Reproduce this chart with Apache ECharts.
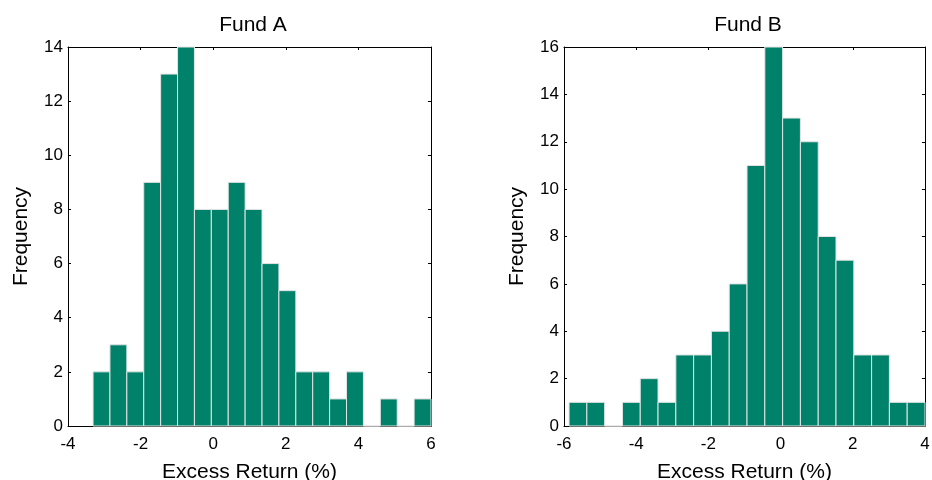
<!DOCTYPE html>
<html>
<head>
<meta charset="utf-8">
<script src="https://cdn.jsdelivr.net/npm/echarts@6/dist/echarts.min.js"></script>
<style>
html,body{margin:0;padding:0;background:#fff;}
#chart{width:932px;height:480px;}
</style>
</head>
<body>
<div id="chart"></div>
<script>
// ---- data ----
var titles = ['Fund A', 'Fund B'];
var countsA = [2, 3, 2, 9, 13, 14, 8, 8, 9, 8, 6, 5, 2, 2, 1, 2, 0, 1, 0, 1];
var countsB = [1, 1, 0, 1, 2, 1, 3, 3, 4, 6, 11, 16, 13, 12, 8, 7, 3, 3, 1, 1];
var binRangeA = [-3.31, 6.0];   // first bin left edge, last bin right edge
var binRangeB = [-5.86, 4.0];
var xTicksA = [-4, -2, 0, 2, 4, 6];
var xTicksB = [-6, -4, -2, 0, 2, 4];
var yTicksA = [0, 2, 4, 6, 8, 10, 12, 14];
var yTicksB = [0, 2, 4, 6, 8, 10, 12, 14, 16];
var xLabel = 'Excess Return (%)';
var yLabel = 'Frequency';

function bins(counts, range) {
  var w = (range[1] - range[0]) / counts.length;
  return counts.map(function (c, i) {
    return [range[0] + i * w, range[0] + (i + 1) * w, c];
  });
}

var FONT = 'Liberation Sans, Arial, sans-serif';
var BAR = '#00826A';

function renderBar(params, api) {
  var p0 = api.coord([api.value(0), 0]);
  var p1 = api.coord([api.value(1), api.value(2)]);
  return {
    type: 'rect',
    shape: { x: p0[0], y: p1[1], width: p1[0] - p0[0], height: p0[1] - p1[1] },
    style: { fill: BAR, stroke: '#e4e4e4', lineWidth: 1 }
  };
}

function xAx(grid, ticks, pos, show) {
  return {
    type: 'value', gridIndex: grid, position: pos,
    min: ticks[0], max: ticks[ticks.length - 1], interval: ticks[1] - ticks[0],
    splitLine: { show: false },
    axisLine: { show: true, onZero: false, lineStyle: { color: '#000', width: 1 } },
    axisTick: { show: true, inside: true, length: 3, lineStyle: { color: '#000' } },
    axisLabel: { show: show, color: '#000', fontSize: 17, fontFamily: FONT, margin: 10 },
    name: show ? xLabel : '', nameLocation: 'middle', nameGap: 36,
    nameTextStyle: { color: '#000', fontSize: 21, fontFamily: FONT }
  };
}
function yAx(grid, ticks, pos, show) {
  return {
    type: 'value', gridIndex: grid, position: pos,
    min: ticks[0], max: ticks[ticks.length - 1], interval: ticks[1] - ticks[0],
    splitLine: { show: false },
    axisLine: { show: true, onZero: false, lineStyle: { color: '#000', width: 1 } },
    axisTick: { show: true, inside: true, length: 3, lineStyle: { color: '#000' } },
    axisLabel: { show: show, color: '#000', fontSize: 17, fontFamily: FONT, margin: 5 },
    name: show ? yLabel : '', nameLocation: 'middle', nameGap: 36,
    nameTextStyle: { color: '#000', fontSize: 21, fontFamily: FONT }
  };
}

var chart = echarts.init(document.getElementById('chart'));
chart.setOption({
  animation: false,
  backgroundColor: '#fff',
  title: [
    { text: titles[0], left: 248, top: 10, textAlign: 'center',
      textStyle: { color: '#000', fontSize: 21, fontWeight: 'normal', fontFamily: FONT } },
    { text: titles[1], left: 743, top: 10, textAlign: 'center',
      textStyle: { color: '#000', fontSize: 21, fontWeight: 'normal', fontFamily: FONT } }
  ],
  grid: [
    { left: 68, right: 501, top: 47, bottom: 54, containLabel: false, outerBoundsMode: 'none' },
    { left: 564, right: 7, top: 47, bottom: 54, containLabel: false, outerBoundsMode: 'none' }
  ],
  xAxis: [
    xAx(0, xTicksA, 'bottom', true),
    xAx(0, xTicksA, 'top', false),
    xAx(1, xTicksB, 'bottom', true),
    xAx(1, xTicksB, 'top', false)
  ],
  yAxis: [
    yAx(0, yTicksA, 'left', true),
    yAx(0, yTicksA, 'right', false),
    yAx(1, yTicksB, 'left', true),
    yAx(1, yTicksB, 'right', false)
  ],
  series: [
    { type: 'custom', xAxisIndex: 0, yAxisIndex: 0, data: bins(countsA, binRangeA),
      encode: { x: [0, 1], y: 2 }, renderItem: renderBar, z: 5 },
    { type: 'custom', xAxisIndex: 2, yAxisIndex: 2, data: bins(countsB, binRangeB),
      encode: { x: [0, 1], y: 2 }, renderItem: renderBar, z: 5 }
  ]
});
</script>
</body>
</html>
